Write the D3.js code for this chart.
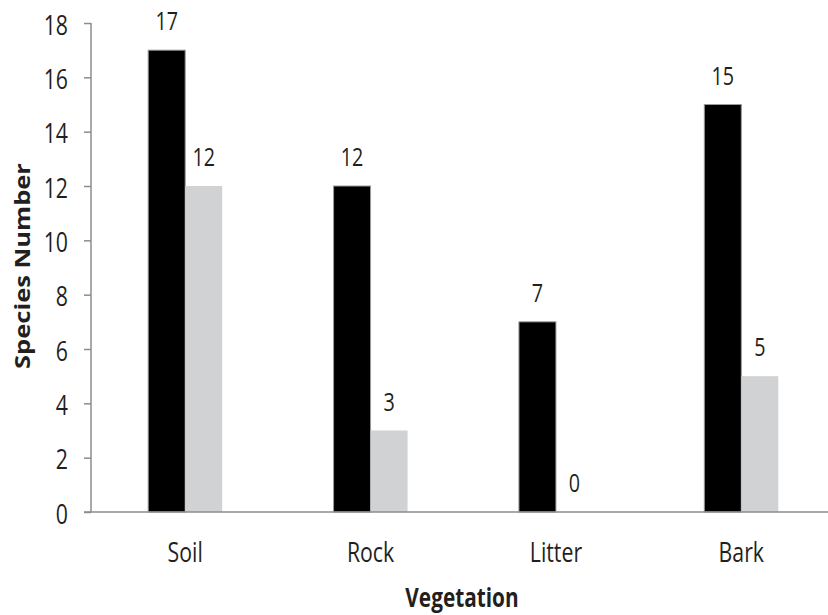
<!DOCTYPE html>
<html>
<head>
<meta charset="utf-8">
<script src="https://cdn.jsdelivr.net/npm/d3@7"></script>
<style>
  html, body { margin: 0; padding: 0; background: #fff; }
  svg { display: block; }
  text { font-family: "Open Sans", "DejaVu Sans", sans-serif; fill: #231f20; }
</style>
</head>
<body>
<svg id="chart" width="828" height="615"></svg>
<script>
// Species counts per substrate
const categories = ["Soil", "Rock", "Litter", "Bark"];
const seriesA = [17, 12, 7, 15];   // black bars
const seriesB = [12, 3, 0, 5];     // grey bars
const yTicks = [0, 2, 4, 6, 8, 10, 12, 14, 16, 18];
const yTitle = "Species Number";
const xTitle = "Vegetation";

const W = 828, H = 615;
const plot = { left: 91, right: 833, top: 23, bottom: 512 };
const bandStart = 92.5, bandEnd = 834;
const barW = 37;
const squeeze = 0.76;   // narrow letterforms

const svg = d3.select("#chart");

const x = d3.scaleBand().domain(categories).range([bandStart, bandEnd]).padding(0);
const y = d3.scaleLinear().domain([0, 18]).range([plot.bottom, plot.top]);

const axisColor = "#8c8c8c";

// Bars
const groups = svg.append("g").selectAll("g")
  .data(categories.map((c, i) => ({ c, a: seriesA[i], b: seriesB[i] })))
  .join("g")
  .attr("transform", d => `translate(${x(d.c) + x.bandwidth() / 2},0)`);

groups.append("rect")
  .attr("x", -barW)
  .attr("y", d => y(d.a))
  .attr("width", barW)
  .attr("height", d => y(0) - y(d.a))
  .attr("fill", "#000")
  .attr("stroke", "#9a9a9a")
  .attr("stroke-width", 1);

groups.append("rect")
  .attr("x", 0)
  .attr("y", d => y(d.b))
  .attr("width", barW)
  .attr("height", d => y(0) - y(d.b))
  .attr("fill", "#d1d2d4");

// Value labels
function valueLabel(sel, key, dx) {
  sel.append("text")
    .attr("transform", d => `translate(${dx},${y(d[key]) - 20}) scale(${squeeze},1)`)
    .attr("text-anchor", "middle")
    .attr("font-size", 26)
    .text(d => d[key]);
}
valueLabel(groups, "a", -barW / 2);
valueLabel(groups, "b", barW / 2);

// Y axis
const yAxis = svg.append("g")
  .attr("transform", `translate(${plot.left},0)`)
  .call(d3.axisLeft(y).tickValues(yTicks).tickSize(7).tickPadding(0).tickFormat(d3.format("d")));
yAxis.select(".domain").attr("stroke", axisColor).attr("stroke-width", 1.5)
  .attr("d", `M0,${plot.top}V${plot.bottom}`);
yAxis.selectAll(".tick line").attr("stroke", axisColor).attr("stroke-width", 1.5);
yAxis.selectAll(".tick text")
  .attr("x", null).attr("dy", null)
  .attr("font-size", 28)
  .attr("fill", "#231f20")
  .attr("dominant-baseline", "central")
  .attr("text-anchor", "end")
  .attr("transform", `translate(-23,0) scale(${squeeze},1)`);

// X axis
const xAxis = svg.append("g")
  .attr("transform", `translate(0,${plot.bottom})`)
  .call(d3.axisBottom(x).tickSize(0).tickPadding(0));
xAxis.select(".domain").attr("stroke", axisColor).attr("stroke-width", 1.5)
  .attr("d", `M84,0H${W}`);
xAxis.selectAll(".tick text")
  .attr("y", null).attr("dy", null)
  .attr("font-size", 28)
  .attr("fill", "#231f20")
  .attr("transform", `translate(0,50) scale(${squeeze},1)`);

// Axis titles
svg.append("text")
  .attr("transform", `translate(462,607) scale(0.8,1)`)
  .attr("text-anchor", "middle")
  .attr("font-size", 26)
  .attr("font-weight", "bold")
  .text(xTitle);

svg.append("text")
  .attr("transform", `translate(30,266) rotate(-90) scale(1.16,1)`)
  .attr("text-anchor", "middle")
  .attr("font-size", 22)
  .attr("font-weight", "bold")
  .text(yTitle);
</script>
</body>
</html>
